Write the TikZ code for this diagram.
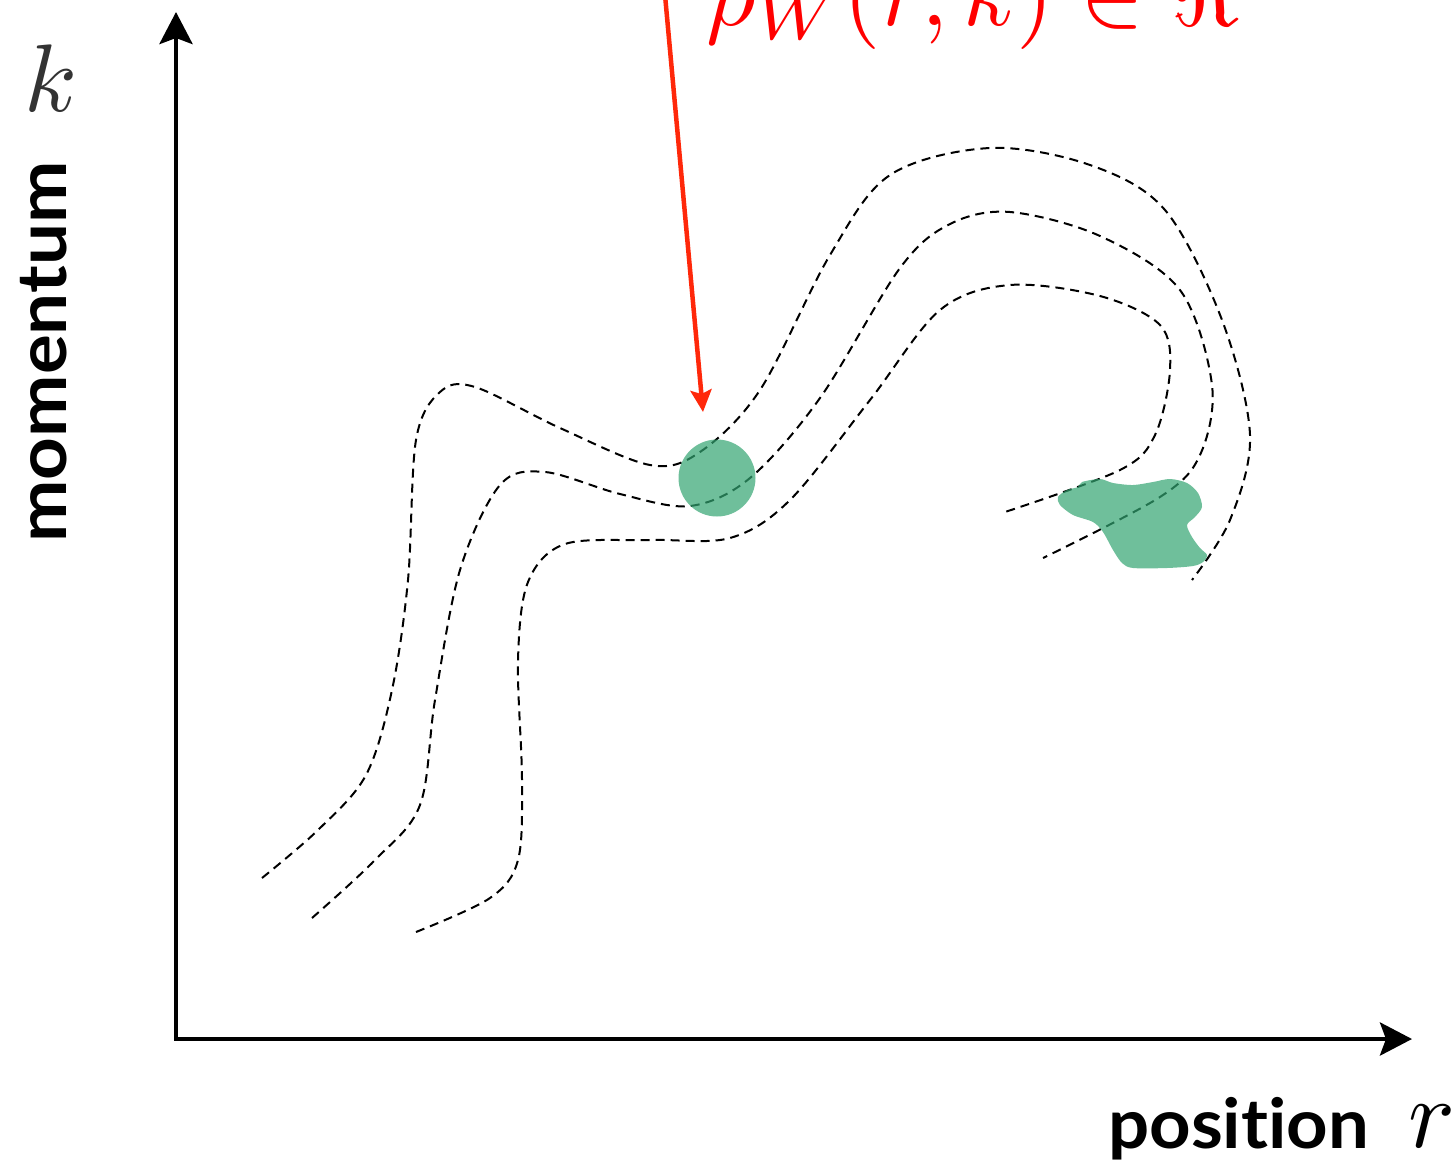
\documentclass[tikz,border=0pt]{standalone}
\usepackage{graphicx}
\usepackage{fontspec}
\newfontfamily\labfont{Lato}[Ligatures=NoCommon]
\usetikzlibrary{arrows.meta}
\definecolor{blobgreen}{RGB}{50,164,113}
\definecolor{arrowred}{RGB}{255,40,10}
\definecolor{kgray}{RGB}{51,51,51}
\begin{document}
\begin{tikzpicture}[x=1pt,y=-1pt,
  traj/.style={dash pattern=on 9pt off 6pt, line width=2pt, black},
  axisline/.style={line width=4.5pt, {Stealth[length=32pt,width=33pt,inset=6pt]}-{Stealth[length=32pt,width=33pt,inset=6pt]}},
  pointer/.style={line width=4.5pt, arrowred, -{Stealth[length=22pt,width=21pt,inset=4pt]}},
  region/.style={fill=blobgreen, fill opacity=0.7},
  axislabel/.style={inner sep=0, font=\labfont\bfseries\fontsize{69}{69}\selectfont}
]
\useasboundingbox (0,0) rectangle (1456,1163);
% trajectories
\draw[traj] plot[smooth, tension=0.55] coordinates {(262,878) (318,830) (366,775) (392,690) (408,580) (416,440) (440,392) (475,387) (560,428) (650,465) (700,452) (760,390) (830,255) (890,175) (990,148) (1090,165) (1165,210) (1222,320) (1250,435) (1230,520) (1192,580)};
\draw[traj] plot[smooth, tension=0.55] coordinates {(312,918) (375,860) (420,805) (435,700) (460,570) (500,485) (545,472) (620,494) (690,506) (750,478) (820,398) (900,268) (950,224) (1010,212) (1100,236) (1180,290) (1212,385) (1200,455) (1160,497) (1043,558)};
\draw[traj] plot[smooth, tension=0.55] coordinates {(416,932) (490,898) (518,860) (522,780) (518,660) (528,582) (565,544) (650,540) (730,538) (790,500) (870,400) (940,310) (1010,285) (1100,296) (1160,325) (1170,370) (1155,435) (1120,470) (1005,512)};
% regions
\node[circle, region, minimum size=77pt, inner sep=0] (wp) at (717,478) {};
\fill[region] plot[smooth cycle, tension=0.5] coordinates {(1082,482) (1100,479) (1113,483) (1133,485) (1153,482) (1170,479) (1187,483) (1198,493) (1202,507) (1195,517) (1187,525) (1192,537) (1200,548) (1207,555) (1203,562) (1193,566) (1167,568) (1133,568) (1122,563) (1113,550) (1103,532) (1093,522) (1073,515) (1060,505) (1058,497) (1067,490) (1078,487)};
% axes
\coordinate (ytip) at (176,12);
\coordinate (origin) at (176,1039);
\coordinate (xtip) at (1412,1039);
\draw[axisline] (ytip) -- (origin) -- (xtip);
% pointer
\coordinate (pstart) at (665,-5);
\coordinate (ptip) at (703,412);
\draw[pointer] (pstart) -- (ptip);
\node[anchor=base west, inner sep=0, text=red] (wlabel) at (706,25) {\scalebox{9.6}{$\rho_W(r,k)\in\Re$}};
% labels
\node[anchor=base, inner sep=0, text=kgray] (klab) at (51,111) {\scalebox{9.6}{$k$}};
\node[anchor=base, inner sep=0] (rlab) at (1432,1147) {\scalebox{9.8}{$r$}};
\node[axislabel, anchor=base west] (poslab) at (1108,1148) {\scalebox{1.05}[1]{position}};
\node[axislabel, anchor=base, rotate=90] (momlab) at (66,352) {\scalebox{1.08}[1]{momentum}};
\end{tikzpicture}
\end{document}
